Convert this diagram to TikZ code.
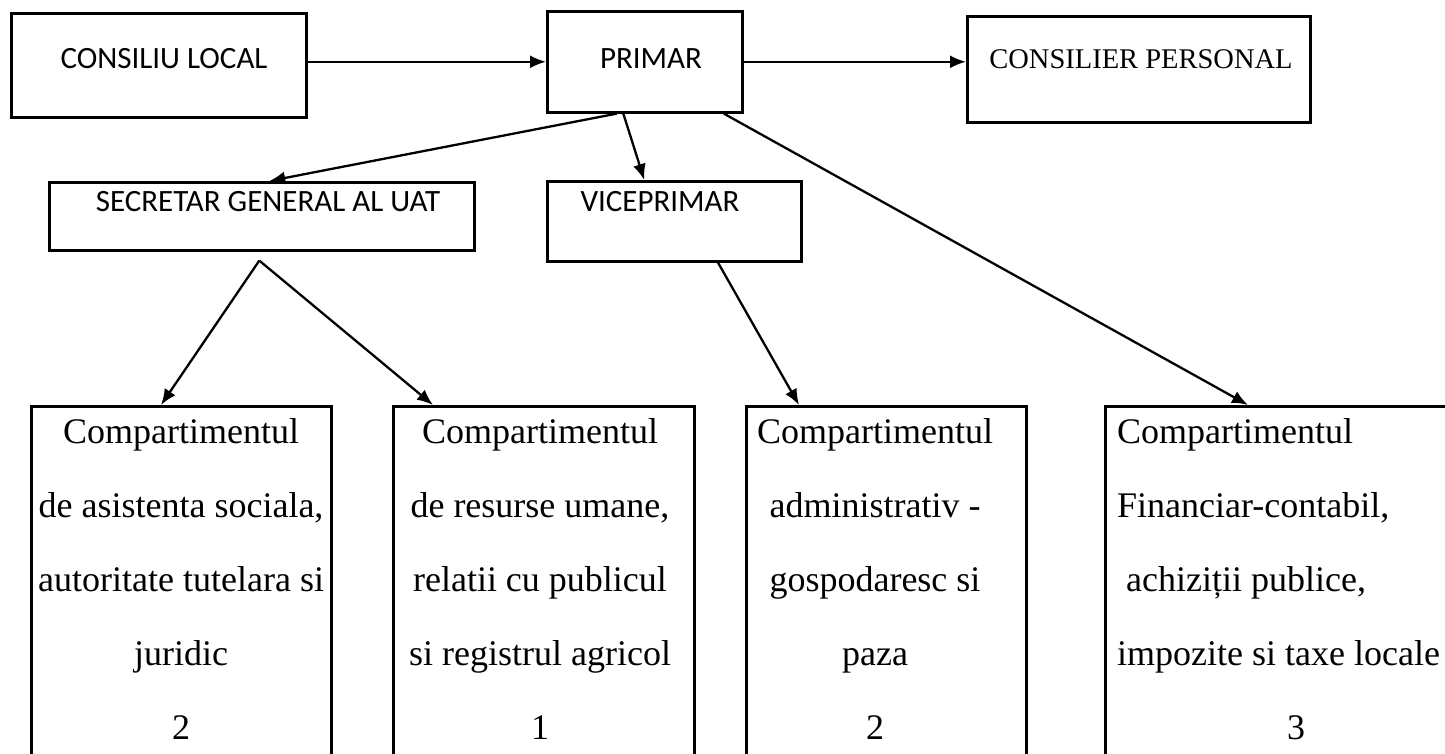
\documentclass[tikz,border=0pt]{standalone}
\usepackage{fontspec}
\setmainfont{Liberation Serif}
\newfontfamily\calib{Carlito}
\usetikzlibrary{arrows.meta,calc}
\begin{document}
\begin{tikzpicture}[x=1pt,y=-1pt,
  box/.style={draw,line width=2.6pt,rectangle,inner sep=0pt,anchor=north west},
  toptxt/.style={font=\calib\fontsize{31}{37}\selectfont,inner sep=0pt},
  sertxt/.style={font=\fontsize{28.5}{34}\selectfont,inner sep=0pt},
  comptxt/.style={font=\fontsize{36}{74}\selectfont,inner sep=0pt,align=center,anchor=north},
  arr/.style={line width=2.3pt,-{Latex[length=16pt,width=13pt]}}]
\useasboundingbox (0,0) rectangle (1445,754);
\clip (0,0) rectangle (1445,754);
% top row
\node[box,minimum width=295pt,minimum height=104pt] (cl) at (10,12) {};
\node[box,minimum width=195pt,minimum height=101pt] (pr) at (546,10) {};
\node[box,minimum width=343pt,minimum height=106pt] (cp) at (966,15) {};
\node[toptxt] (clt) at (164,59) {CONSILIU LOCAL};
\node[toptxt] (prt) at (651,59) {PRIMAR};
\node[sertxt] (cpt) at (1141,59) {CONSILIER PERSONAL};
% second row
\node[box,minimum width=425pt,minimum height=68pt] (sg) at (48,181) {};
\node[box,minimum width=254pt,minimum height=80pt] (vp) at (546,180) {};
\node[toptxt] (sgt) at (268,202) {SECRETAR GENERAL AL UAT};
\node[toptxt] (vpt) at (660,202) {VICEPRIMAR};
% bottom row
\node[box,minimum width=300pt,minimum height=400pt] (c1) at (30,405) {};
\node[box,minimum width=301pt,minimum height=400pt] (c2) at (392,405) {};
\node[box,minimum width=280pt,minimum height=400pt] (c3) at (745,405) {};
\node[box,minimum width=400pt,minimum height=400pt] (c4) at (1104,405) {};
\node[comptxt] (c1t) at (181,418.5) {Compartimentul\\de asistenta sociala,\\autoritate tutelara si\\juridic\\2};
\node[comptxt] (c2t) at (540,418.5) {Compartimentul\\de resurse umane,\\relatii cu publicul\\si registrul agricol\\1};
\node[comptxt] (c3t) at (875,418.5) {Compartimentul\\administrativ -\\gospodaresc si\\paza\\2};
\node[comptxt,align=left,anchor=north west] (c4t) at (1117,418.5) {Compartimentul\\Financiar-contabil,\\\hspace*{9pt}achiziții publice,\\impozite si taxe locale\\\hspace*{170pt}3};
% connectors
\draw[arr] (cl.east |- pr.west) -- (pr.west);
\draw[arr] (pr.east) -- (pr.east -| cp.west);
\draw[arr] ([xshift=-28pt]pr.south) -- ([xshift=7.5pt]sg.north);
\draw[arr] ([xshift=-21.5pt]pr.south) -- ([xshift=-30pt]vp.north);
\draw[arr] ([xshift=79pt]pr.south) -- ([xshift=144pt]c4.north west);
\coordinate (sgf) at ([xshift=-2.5pt,yshift=-9pt]sg.south);
\draw[arr] (sgf) -- ([xshift=131pt]c1.north west);
\draw[arr] (sgf) -- ([xshift=41pt]c2.north west);
\draw[arr] ([xshift=172pt]vp.south west) -- ([xshift=54pt]c3.north west);
\end{tikzpicture}
\end{document}
